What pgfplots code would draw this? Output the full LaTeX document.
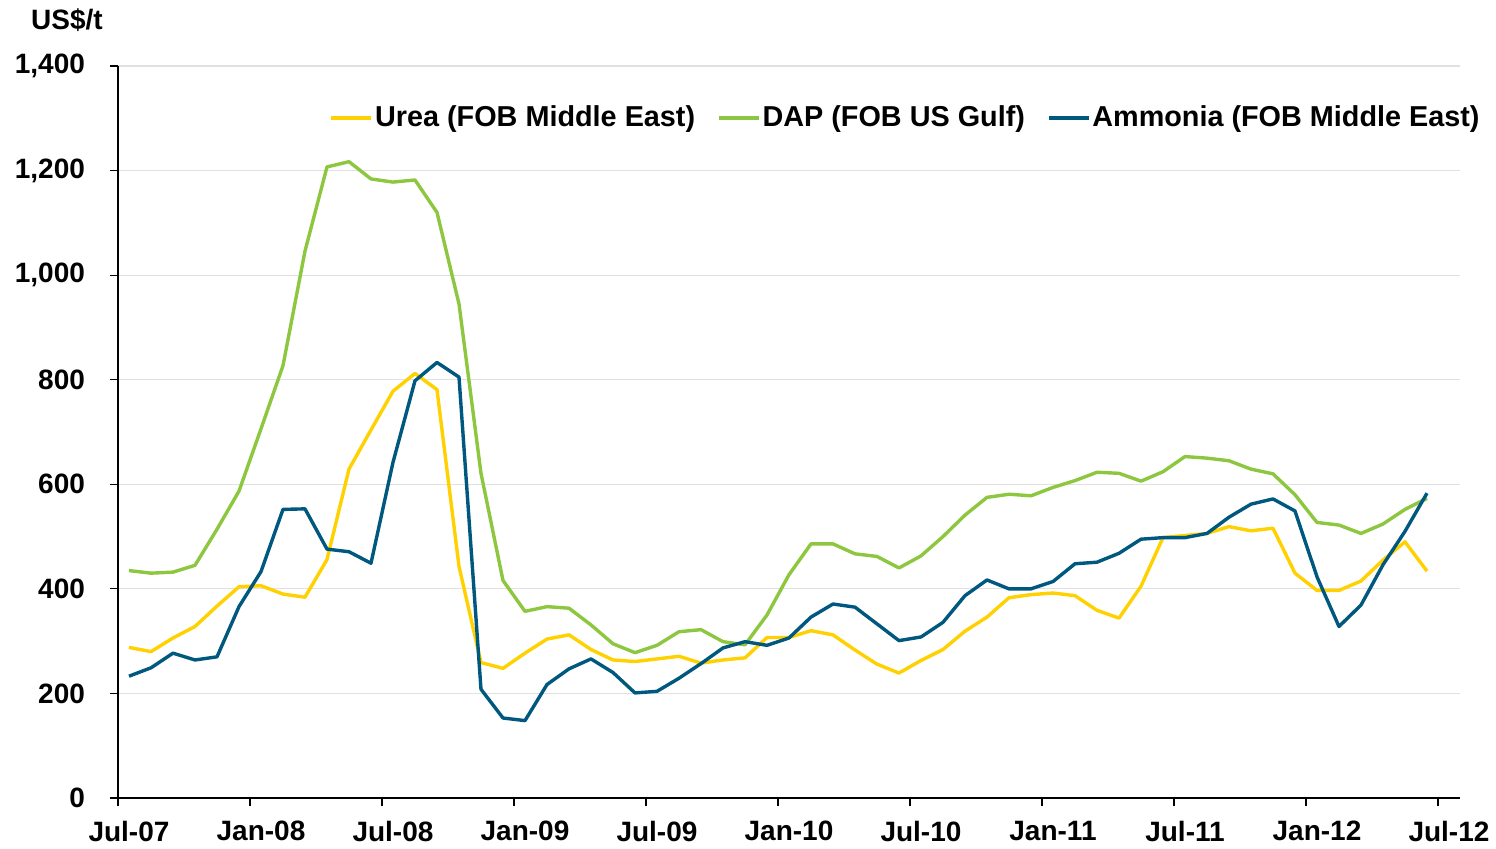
\documentclass[border=0pt]{standalone}
\usepackage{pgfplots}
\pgfplotsset{compat=1.18}
\usepackage{fontspec}
\setmainfont{Liberation Sans}

\definecolor{urea}{RGB}{255,209,0}
\definecolor{dap}{RGB}{141,198,63}
\definecolor{ammonia}{RGB}{0,88,127}
\definecolor{gridgray}{RGB}{225,225,225}

% monthly prices, x = months after Jul-07 (mid-month)
\pgfplotstableread{
x urea dap ammonia
0.5 288 435 233
1.5 280 430 249
2.5 306 432 277
3.5 328 445 264
4.5 367 514 270
5.5 404 587 366
6.5 406 706 433
7.5 390 827 552
8.5 384 1046 553
9.5 456 1207 476
10.5 629 1217 471
11.5 704 1184 449
12.5 778 1178 642
13.5 812 1182 798
14.5 781 1120 833
15.5 443 945 805
16.5 259 621 208
17.5 248 416 153
18.5 277 357 148
19.5 304 366 217
20.5 312 363 247
21.5 284 331 266
22.5 264 295 240
23.5 261 278 201
24.5 266 292 204
25.5 271 318 229
26.5 258 322 257
27.5 264 299 287
28.5 268 293 299
29.5 307 350 292
30.5 307 427 306
31.5 320 486 346
32.5 312 486 371
33.5 283 467 365
34.5 256 462 333
35.5 239 440 301
36.5 263 463 308
37.5 284 500 336
38.5 319 541 387
39.5 346 575 417
40.5 383 581 400
41.5 389 578 400
42.5 392 594 414
43.5 387 607 448
44.5 359 623 451
45.5 344 621 468
46.5 405 606 495
47.5 498 624 498
48.5 502 653 498
49.5 506 650 506
50.5 519 645 537
51.5 511 629 562
52.5 516 620 572
53.5 430 580 549
54.5 397 527 423
55.5 397 522 328
56.5 415 506 369
57.5 455 524 446
58.5 490 552 510
59.5 434 573 583
}\prices

\begin{document}
\begin{tikzpicture}
\path[use as bounding box] (-59pt,-25pt) rectangle (689pt,399pt);
\begin{axis}[
    at={(0pt,0pt)}, anchor=south west,
    scale only axis,
    width=671pt, height=366pt,
    xmin=0, xmax=61,
    ymin=0, ymax=1400,
    axis x line*=bottom, axis y line*=left,
    axis line style={-, black, line width=0.6pt},
    xtick={0,6,...,60},
    xticklabels={Jul-07,Jan-08,Jul-08,Jan-09,Jul-09,Jan-10,Jul-10,Jan-11,Jul-11,Jan-12,Jul-12},
    ytick={0,200,...,1400},
    tick align=outside,
    major tick length=4pt,
    tick style={black, line width=0.6pt},
    ymajorgrids,
    grid style={gridgray, line width=0.6pt},
    font=\bfseries\fontsize{14}{16}\selectfont,
    /pgf/number format/assume math mode=true,
    /pgf/number format/1000 sep={,},
    xticklabel style={font=\bfseries\fontsize{14}{16}\selectfont, xshift=5.5pt, yshift=-4pt},
    yticklabel style={font=\bfseries\fontsize{14}{16}\selectfont, xshift=-9pt},
    legend columns=3,
    legend style={at={(1.0164,0.929)}, anchor=east, draw=none, fill=none,
        inner sep=0pt, font=\bfseries\fontsize{14.4}{16}\selectfont,
        nodes={inner sep=1pt},
        /tikz/every even column/.append style={column sep=10pt}},
    legend image code/.code={\draw[#1] (0pt,0pt) -- (20pt,0pt);},
    every axis plot/.append style={line width=1.7pt, line join=round},
]
\addplot[urea, no markers] table[x=x, y=urea] {\prices};
\addlegendentry{Urea (FOB Middle East)}
\addplot[dap, no markers] table[x=x, y=dap] {\prices};
\addlegendentry{DAP (FOB US Gulf)}
\addplot[ammonia, no markers] table[x=x, y=ammonia] {\prices};
\addlegendentry{Ammonia (FOB Middle East)}
\end{axis}
\node[font=\bfseries\fontsize{14}{16}\selectfont] at (-25.5pt,389pt) {US\$/t};
\end{tikzpicture}
\end{document}
